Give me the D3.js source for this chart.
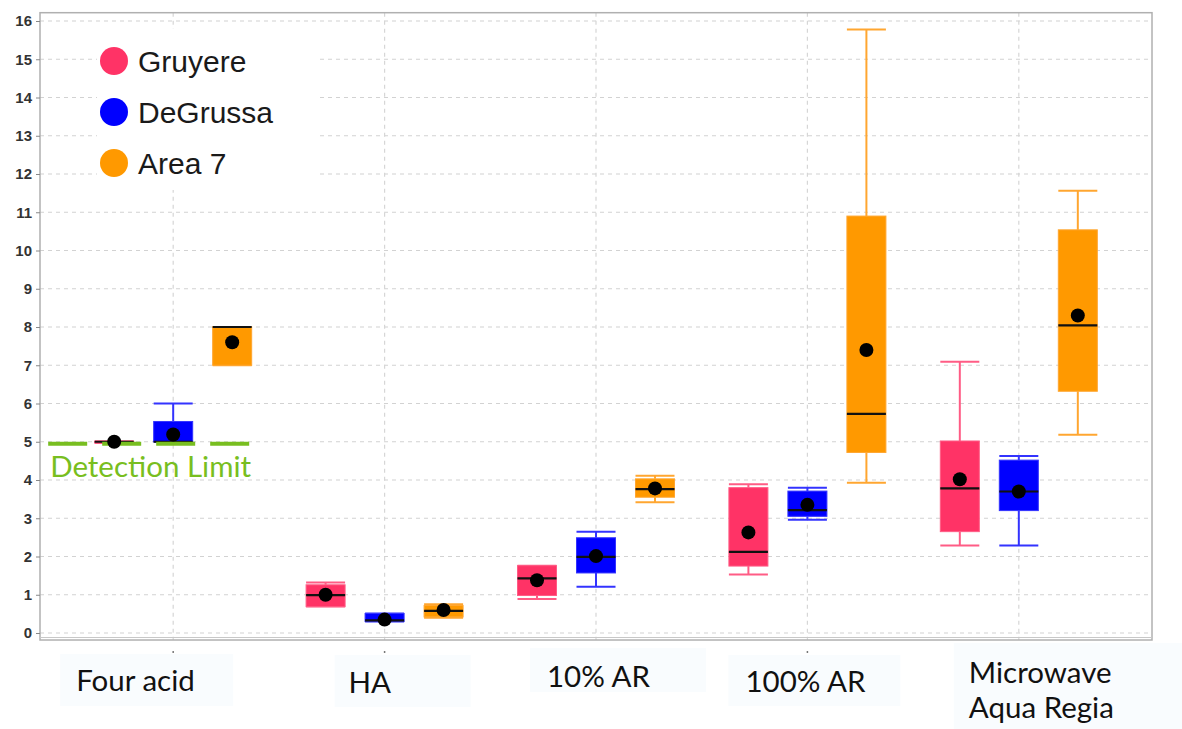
<!DOCTYPE html>
<html>
<head>
<meta charset="utf-8">
<script src="https://cdn.jsdelivr.net/npm/d3@7"></script>
<style>
  html, body { margin: 0; padding: 0; background: #fff; }
  svg { display: block; }
</style>
</head>
<body>
<svg id="chart" width="1182" height="729"></svg>
<script>
// Digestion methods along the x axis
const categories = ["Four acid", "HA", "10% AR", "100% AR", "Microwave Aqua Regia"];
const seriesNames = ["Gruyere", "DeGrussa", "Area 7"];
const seriesColors = ["#FF3366", "#0000FF", "#FF9900"];
const whiskerColors = ["#FF5C85", "#3333FF", "#FFA630"];

// Per method: [min, q1, median, q3, max, mean]
const gruyere = [
  [4.97, 4.97, 5.00, 5.01, 5.01, 5.00],
  [0.69, 0.69, 0.99, 1.26, 1.32, 1.00],
  [0.89, 0.98, 1.43, 1.76, 1.76, 1.38],
  [1.53, 1.75, 2.12, 3.80, 3.89, 2.63],
  [2.29, 2.65, 3.78, 5.02, 7.09, 4.02]
];
const degrussa = [
  [5.00, 5.00, 5.00, 5.53, 6.00, 5.19],
  [0.30, 0.30, 0.33, 0.51, 0.51, 0.35],
  [1.21, 1.57, 1.99, 2.49, 2.65, 2.01],
  [2.96, 3.05, 3.21, 3.71, 3.80, 3.35],
  [2.29, 3.20, 3.70, 4.52, 4.63, 3.70]
];
const area7 = [
  [7.00, 7.00, 8.00, 8.00, 8.00, 7.60],
  [0.40, 0.42, 0.58, 0.72, 0.75, 0.60],
  [3.42, 3.55, 3.76, 4.03, 4.11, 3.78],
  [3.93, 4.72, 5.73, 10.90, 15.78, 7.40],
  [5.18, 6.32, 8.04, 10.54, 11.56, 8.30]
];
const seriesData = [gruyere, degrussa, area7];

const yTicks = [0,1,2,3,4,5,6,7,8,9,10,11,12,13,14,15,16];
const detectionLimit = 4.95;
const detectionLabel = "Detection Limit";

// Method label boxes, placed relative to each category position
const labelLayout = [
  { dx: -113, y: 654, w: 173, h: 52, tx: -97, lines: ["Four acid"], base: 691 },
  { dx: -50,  y: 655, w: 136, h: 52, tx: -36, lines: ["HA"], base: 693 },
  { dx: -66,  y: 648, w: 176, h: 44, tx: -49, lines: ["10% AR"], base: 687 },
  { dx: -79,  y: 655, w: 172, h: 51, tx: -62, lines: ["100% AR"], base: 692 },
  { dx: -65,  y: 643, w: 230, h: 86, tx: -50, lines: ["Microwave", "Aqua Regia"], base: 683 }
];

const svg = d3.select("#chart");
const plot = { left: 40, right: 1152, top: 12.7, bottom: 640 };

const y = d3.scaleLinear().domain([0, 16]).range([633, 21]);
const x = d3.scalePoint().domain(categories).range([plot.left, plot.right]).padding(0.63);
const xs = d3.scalePoint().domain(seriesNames).range([-59, 59]);
const boxW = 39;

// Grid
const grid = svg.append("g");
grid.selectAll("line.h").data(yTicks).join("line")
  .attr("x1", plot.left).attr("x2", plot.right)
  .attr("y1", d => y(d)).attr("y2", d => y(d))
  .attr("stroke", "#d2d2d2").attr("stroke-width", 1.2).attr("stroke-dasharray", "4,4");
grid.selectAll("line.v").data(categories).join("line")
  .attr("x1", d => x(d)).attr("x2", d => x(d))
  .attr("y1", plot.top).attr("y2", plot.bottom)
  .attr("stroke", "#d6d6d6").attr("stroke-width", 1.2).attr("stroke-dasharray", "4,4");

// Frame
svg.append("rect")
  .attr("x", plot.left).attr("y", plot.top)
  .attr("width", plot.right - plot.left).attr("height", plot.bottom - plot.top)
  .attr("fill", "none").attr("stroke", "#b0b0b0").attr("stroke-width", 1.5);
svg.append("line")
  .attr("x1", plot.left).attr("x2", plot.right)
  .attr("y1", plot.bottom - 2.5).attr("y2", plot.bottom - 2.5)
  .attr("stroke", "#c8c8c8").attr("stroke-width", 1);

// Y axis
const yAxis = d3.axisLeft(y).tickValues(yTicks).tickSize(4).tickPadding(4);
const yg = svg.append("g").attr("transform", `translate(${plot.left},0)`).call(yAxis);
yg.select(".domain").remove();
yg.selectAll(".tick line").attr("stroke", "#888");
yg.selectAll(".tick text")
  .attr("font-family", "Liberation Sans, Arial, sans-serif")
  .attr("font-size", 15).attr("font-weight", "bold").attr("fill", "#333");

// small category ticks below the axis
svg.selectAll("line.ct").data(categories).join("line")
  .attr("x1", d => x(d)).attr("x2", d => x(d))
  .attr("y1", 651).attr("y2", 653)
  .attr("stroke", "#777").attr("stroke-width", 1.5);

// Box plots
seriesNames.forEach((name, si) => {
  const g = svg.append("g");
  const data = seriesData[si].map((s, ci) => ({
    cx: x(categories[ci]) + xs(name),
    min: s[0], q1: s[1], med: s[2], q3: s[3], max: s[4], mean: s[5]
  }));
  const col = seriesColors[si];
  const wcol = whiskerColors[si];
  const item = g.selectAll("g").data(data).join("g");
  // whisker stems
  item.append("line")
    .attr("x1", d => d.cx).attr("x2", d => d.cx)
    .attr("y1", d => y(d.max)).attr("y2", d => y(d.q3))
    .attr("stroke", wcol).attr("stroke-width", 2);
  item.append("line")
    .attr("x1", d => d.cx).attr("x2", d => d.cx)
    .attr("y1", d => y(d.q1)).attr("y2", d => y(d.min))
    .attr("stroke", wcol).attr("stroke-width", 2);
  // caps
  ["max", "min"].forEach(k => {
    item.append("line")
      .attr("x1", d => d.cx - boxW / 2).attr("x2", d => d.cx + boxW / 2)
      .attr("y1", d => y(d[k])).attr("y2", d => y(d[k]))
      .attr("stroke", wcol).attr("stroke-width", 2);
  });
  // box
  item.append("rect")
    .attr("x", d => d.cx - boxW / 2).attr("width", boxW)
    .attr("y", d => y(d.q3)).attr("height", d => Math.max(1.5, y(d.q1) - y(d.q3)))
    .attr("fill", col).attr("stroke", wcol).attr("stroke-width", 1);
  // median
  item.append("line")
    .attr("x1", d => d.cx - boxW / 2).attr("x2", d => d.cx + boxW / 2)
    .attr("y1", d => y(d.med)).attr("y2", d => y(d.med))
    .attr("stroke", "#111").attr("stroke-width", 2.2);
});

// Detection limit
const dlStart = x(categories[0]) + xs("Gruyere") - 66;
const dlEnd = x(categories[0]) + xs("Area 7") + 17;
svg.append("line")
  .attr("x1", dlStart).attr("x2", dlEnd)
  .attr("y1", y(detectionLimit)).attr("y2", y(detectionLimit))
  .attr("stroke", "#78BE20").attr("stroke-width", 4).attr("stroke-dasharray", "39,15");

// Means (drawn over everything)
seriesNames.forEach((name, si) => {
  svg.append("g").selectAll("circle").data(seriesData[si]).join("circle")
    .attr("cx", (s, ci) => x(categories[ci]) + xs(name))
    .attr("cy", s => y(s[5]))
    .attr("r", 7).attr("fill", "#000");
});

svg.append("text")
  .attr("x", dlStart + 2).attr("y", 477)
  .attr("font-family", "Lato, 'Open Sans', sans-serif").attr("font-size", 29.5)
  .attr("fill", "#78BE20").text(detectionLabel);

// Legend
const legend = svg.append("g");
legend.append("rect").attr("x", 97).attr("y", 29).attr("width", 222).attr("height", 161).attr("fill", "#fff");
const li = legend.selectAll("g").data(seriesNames).join("g")
  .attr("transform", (d, i) => `translate(114,${61 + i * 51})`);
li.append("circle").attr("r", 14).attr("fill", (d, i) => seriesColors[i]);
li.append("text").attr("x", 24).attr("y", 11)
  .attr("font-family", "Liberation Sans, Arial, sans-serif").attr("font-size", 30)
  .attr("fill", "#1a1a1a").text(d => d);

// Method labels
const lab = svg.append("g").selectAll("g").data(categories).join("g");
lab.append("rect")
  .attr("x", (d, i) => x(d) + labelLayout[i].dx).attr("y", (d, i) => labelLayout[i].y)
  .attr("width", (d, i) => labelLayout[i].w).attr("height", (d, i) => labelLayout[i].h)
  .attr("fill", "#f9fcfe");
lab.each(function (d, i) {
  const L = labelLayout[i];
  const t = d3.select(this).append("text")
    .attr("font-family", "Lato, 'Open Sans', sans-serif").attr("font-size", 29.5).attr("fill", "#111");
  L.lines.forEach((ln, k) => {
    t.append("tspan").attr("x", x(d) + L.tx).attr("y", L.base + k * 35).text(ln);
  });
});
</script>
</body>
</html>
